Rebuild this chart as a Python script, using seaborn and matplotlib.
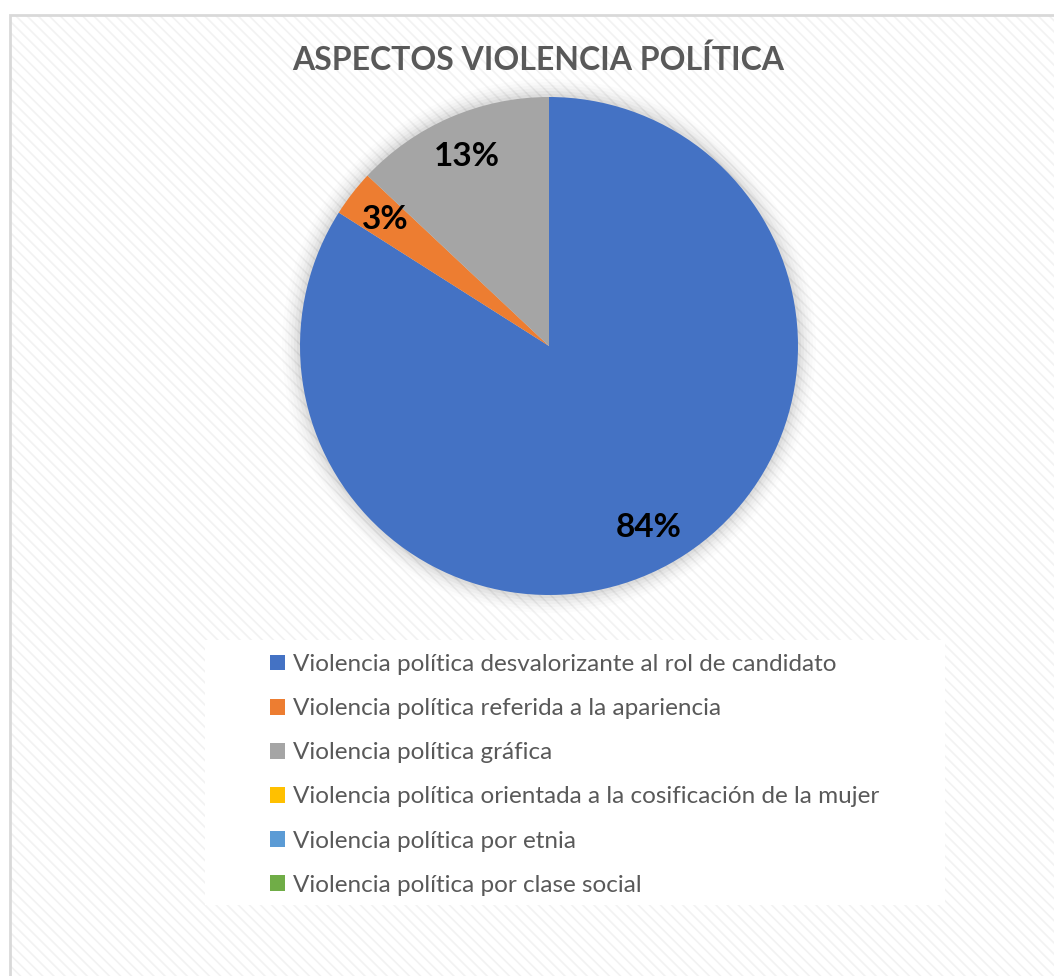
import matplotlib
matplotlib.use("Agg")
import matplotlib.pyplot as plt
from matplotlib.patches import Rectangle, Circle
import seaborn as sns

categories = [
    "Violencia política desvalorizante al rol de candidato",
    "Violencia política referida a la apariencia",
    "Violencia política gráfica",
    "Violencia política orientada a la cosificación de la mujer",
    "Violencia política por etnia",
    "Violencia política por clase social",
]
values = [84, 3, 13, 0, 0, 0]
colors = ["#4472C4", "#ED7D31", "#A5A5A5", "#FFC000", "#5B9BD5", "#70AD47"]
title = "ASPECTOS VIOLENCIA POLÍTICA"

sns.set_style("white")
plt.rcParams["font.family"] = ["Lato", "DejaVu Sans"]
plt.rcParams["hatch.linewidth"] = 1.2

W, H = 1054, 976
fig = plt.figure(figsize=(W / 100, H / 100), dpi=100)
fig.patch.set_facecolor("white")

# chart area: faint diagonal hatch and light border
bg = Rectangle((10 / W, 0), 1.2, 1 - 15 / H, transform=fig.transFigure,
               facecolor="white", edgecolor="#f2f2f2", hatch="\\\\\\",
               linewidth=0, zorder=-3)
fig.patches.append(bg)
border = Rectangle((10 / W, -0.1), 1.2, 1.1 - 15 / H, transform=fig.transFigure,
                   facecolor="none", edgecolor="#d9d9d9", linewidth=2, zorder=-2)
fig.patches.append(border)

# legend area box
leg_box = Rectangle((205 / W, 1 - 905 / H), 740 / W, 265 / H,
                    transform=fig.transFigure, facecolor="white",
                    edgecolor="none", zorder=-1)
fig.patches.append(leg_box)

ax = fig.add_axes([300 / W, 1 - 595 / H, 498 / W, 498 / H])
ax.set_facecolor("none")
ax.set_zorder(5)

# soft shadow behind the pie
for i, a in enumerate([0.035, 0.03, 0.025, 0.02, 0.015, 0.01]):
    ax.add_patch(Circle((0, 0), 1.0 + 0.012 * (i + 1), color="black",
                        alpha=a, lw=0, clip_on=False, zorder=0))

wedges, texts, autotexts = ax.pie(
    values, colors=colors, startangle=90, counterclock=False,
    autopct=lambda p: f"{p:.0f}%" if p > 0.5 else "",
    pctdistance=0.83, radius=1.0,
    wedgeprops=dict(linewidth=0),
    textprops=dict(fontsize=24, fontweight="bold", color="black"),
)
for w in wedges:
    w.set_zorder(2)
for t in autotexts:
    t.set_zorder(3)
ax.set_xlim(-1, 1)
ax.set_ylim(-1, 1)
ax.axis("off")

fig.text(538 / W, 1 - 60 / H, title, ha="center", va="center",
         fontsize=23, fontweight="bold", color="#595959")

leg = fig.legend(wedges, categories, loc="upper left",
                 bbox_to_anchor=(258 / W, 1 - 642 / H), frameon=False,
                 fontsize=17.5, handlelength=0.62, handleheight=0.62,
                 handletextpad=0.3, labelspacing=0.95, borderpad=0,
                 labelcolor="#595959")
leg.set_zorder(6)

fig.savefig("out.png", dpi=100)
